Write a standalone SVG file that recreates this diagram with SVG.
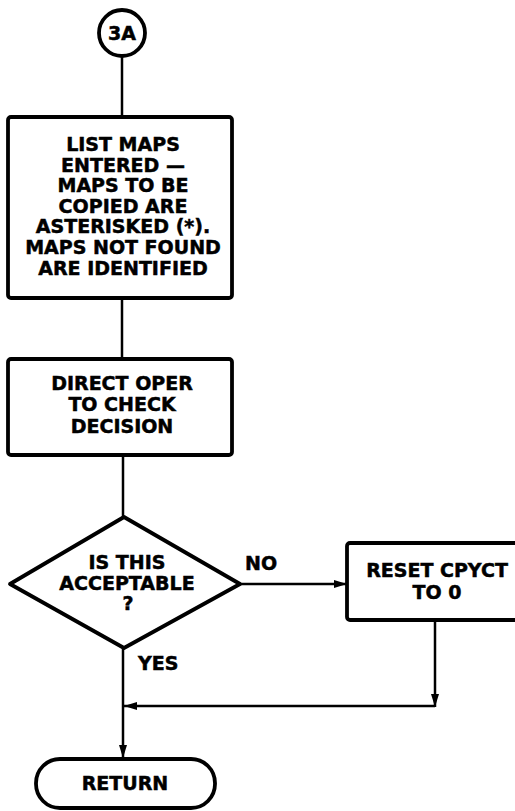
<svg xmlns="http://www.w3.org/2000/svg" width="515" height="811" viewBox="0 0 515 811">
<style>
.shape{fill:#fff;stroke:#000;stroke-width:3.8;stroke-linejoin:round}
.conn{fill:none;stroke:#000;stroke-width:2.5}
.t{font-family:"DejaVu Sans","Liberation Sans",sans-serif;font-weight:bold;font-size:19px;fill:#000;stroke:#000;stroke-width:0.5;text-anchor:middle}
.lbl{font-family:"DejaVu Sans","Liberation Sans",sans-serif;font-weight:bold;font-size:19px;fill:#000;stroke:#000;stroke-width:0.5}
</style>
<defs>
<marker id="arr" markerUnits="userSpaceOnUse" markerWidth="14" markerHeight="10" refX="13" refY="5" orient="auto">
<path d="M0,1 L13,5 L0,9 z" fill="#000"/>
</marker>
</defs>
<rect width="515" height="811" fill="#fff"/>
<g id="connectors">
<line class="conn" x1="122" y1="56" x2="122" y2="117"/>
<line class="conn" x1="122" y1="298" x2="122" y2="359"/>
<line class="conn" x1="123" y1="455" x2="123" y2="517"/>
<line class="conn" x1="240" y1="584" x2="347" y2="584" marker-end="url(#arr)"/>
<line class="conn" x1="435" y1="620" x2="435" y2="707" marker-end="url(#arr)"/>
<line class="conn" x1="435" y1="706" x2="124" y2="706" marker-end="url(#arr)"/>
<line class="conn" x1="123" y1="648" x2="123" y2="758" marker-end="url(#arr)"/>
<text class="lbl" x="245" y="570">NO</text>
<text class="lbl" x="138" y="670">YES</text>
</g>
<g id="start">
<circle class="shape" cx="122" cy="33" r="23"/>
<text class="t" x="122" y="40">3A</text>
</g>
<g id="list">
<rect class="shape" x="8" y="117" width="224" height="181" rx="3"/>
<text class="t" x="123" y="151">LIST MAPS</text>
<text class="t" x="123" y="171.6">ENTERED —</text>
<text class="t" x="123" y="192.2">MAPS TO BE</text>
<text class="t" x="123" y="212.8">COPIED ARE</text>
<text class="t" x="123" y="233.4">ASTERISKED (*).</text>
<text class="t" x="123" y="254">MAPS NOT FOUND</text>
<text class="t" x="123" y="274.6">ARE IDENTIFIED</text>
</g>
<g id="direct">
<rect class="shape" x="8" y="359" width="224" height="96" rx="3"/>
<text class="t" x="122" y="389.5">DIRECT OPER</text>
<text class="t" x="122" y="411">TO CHECK</text>
<text class="t" x="122" y="432.5">DECISION</text>
</g>
<g id="decision">
<polygon class="shape" points="124,517 240,584 124,648 10,584"/>
<text class="t" x="127" y="568.5">IS THIS</text>
<text class="t" x="127" y="589.5">ACCEPTABLE</text>
<text class="t" x="128" y="609.5">?</text>
</g>
<g id="reset">
<rect class="shape" x="347" y="543" width="200" height="77" rx="3"/>
<text class="t" x="437" y="576.5">RESET CPYCT</text>
<text class="t" x="437" y="598.5">TO 0</text>
</g>
<g id="return">
<rect class="shape" x="36" y="759" width="179" height="49" rx="24"/>
<text class="t" x="125" y="790">RETURN</text>
</g>
</svg>
